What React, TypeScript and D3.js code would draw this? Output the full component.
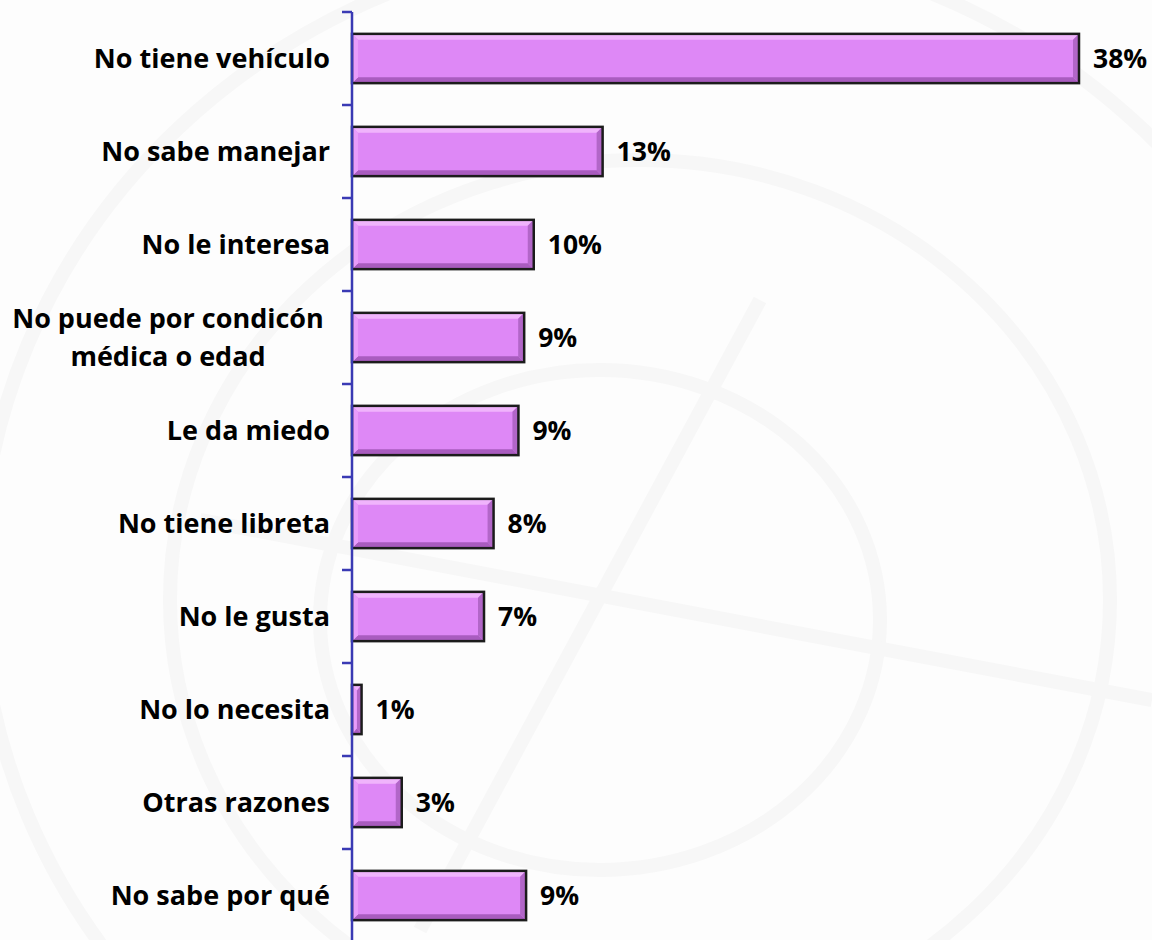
import React from "react";
import * as d3 from "d3";

const categories: string[][] = [
  ["No tiene vehículo"],
  ["No sabe manejar"],
  ["No le interesa"],
  ["No puede por condicón", "médica o edad"],
  ["Le da miedo"],
  ["No tiene libreta"],
  ["No le gusta"],
  ["No lo necesita"],
  ["Otras razones"],
  ["No sabe por qué"],
];
const values: number[] = [38, 13.1, 9.5, 9.0, 8.7, 7.4, 6.9, 0.5, 2.6, 9.1];
const valueLabels: string[] = ["38%", "13%", "10%", "9%", "9%", "8%", "7%", "1%", "3%", "9%"];

const W = 1152;
const H = 940;
const FONT = "'Open Sans', Lato, sans-serif";

export default function App() {
  const keys = categories.map((c) => c.join(" "));
  const x = d3.scaleLinear().domain([0, 38]).range([352, 1079]);
  const y = d3
    .scaleBand<string>()
    .domain(keys)
    .range([12, 942])
    .paddingInner(0.47)
    .paddingOuter(0.235);
  const step = y.step();
  const bw = y.bandwidth();
  const bev = 6;

  return (
    <div style={{ position: "absolute", left: 0, top: 0 }}>
      <svg width={W} height={H} style={{ display: "block", background: "#fdfdfd" }}>
        {/* faint watermark */}
        <g fill="none" stroke="#f7f7f7" strokeWidth={14}>
          <ellipse cx={600} cy={620} rx={280} ry={250} />
          <ellipse cx={640} cy={600} rx={470} ry={440} />
          <ellipse cx={660} cy={580} rx={680} ry={640} />
          <line x1={200} y1={520} x2={1152} y2={700} />
          <line x1={420} y1={930} x2={760} y2={300} />
        </g>
        {/* bars */}
        {keys.map((k, i) => {
          const x0 = x(0);
          const x1 = x(values[i]);
          const y0 = y(k)!;
          const y1 = y0 + bw;
          const w = x1 - x0;
          const b = Math.min(bev, w / 2);
          return (
            <g key={k}>
              <rect x={x0} y={y0} width={w} height={bw} fill="#de88f6" />
              <polygon
                points={`${x0},${y0} ${x1},${y0} ${x1 - b},${y0 + bev} ${x0 + b},${y0 + bev}`}
                fill="#f0b4fc"
              />
              <polygon
                points={`${x0},${y1} ${x1},${y1} ${x1 - b},${y1 - bev} ${x0 + b},${y1 - bev}`}
                fill="#a95cbf"
              />
              <polygon
                points={`${x1},${y0} ${x1},${y1} ${x1 - b},${y1 - bev} ${x1 - b},${y0 + bev}`}
                fill="#b266c8"
              />
              <polygon
                points={`${x0},${y0} ${x0},${y1} ${x0 + b},${y1 - bev} ${x0 + b},${y0 + bev}`}
                fill="#e89cfa"
              />
              <rect
                x={x0}
                y={y0}
                width={w}
                height={bw}
                fill="none"
                stroke="#1c1c1c"
                strokeWidth={2.5}
              />
              <text
                x={x1 + 14}
                y={y0 + bw / 2}
                dy="0.36em"
                fontFamily={FONT}
                fontWeight={700}
                fontSize={26.5}
                fill="#000"
              >
                {valueLabels[i]}
              </text>
            </g>
          );
        })}
        {/* axis */}
        <g stroke="#3a3ab4" strokeWidth={2.5}>
          <line x1={x(0)} x2={x(0)} y1={12} y2={H} />
          {d3.range(keys.length + 1).map((i) => (
            <line key={i} x1={x(0) - 10} x2={x(0)} y1={12 + i * step} y2={12 + i * step} />
          ))}
        </g>
        {/* category labels */}
        {categories.map((lines, i) => {
          const cy = y(keys[i])! + bw / 2;
          const lh = 38;
          const n = lines.length;
          if (n === 1) {
            return (
              <text
                key={i}
                x={330}
                y={cy}
                dy="0.36em"
                textAnchor="end"
                fontFamily={FONT}
                fontWeight={700}
                fontSize={27}
                fill="#000"
              >
                {lines[0]}
              </text>
            );
          }
          return (
            <text
              key={i}
              fontFamily={FONT}
              fontWeight={700}
              fontSize={27}
              fill="#000"
              textAnchor="middle"
            >
              {lines.map((l, j) => (
                <tspan key={j} x={168} y={cy + (j - (n - 1) / 2) * lh} dy="0.36em">
                  {l}
                </tspan>
              ))}
            </text>
          );
        })}
      </svg>
    </div>
  );
}
